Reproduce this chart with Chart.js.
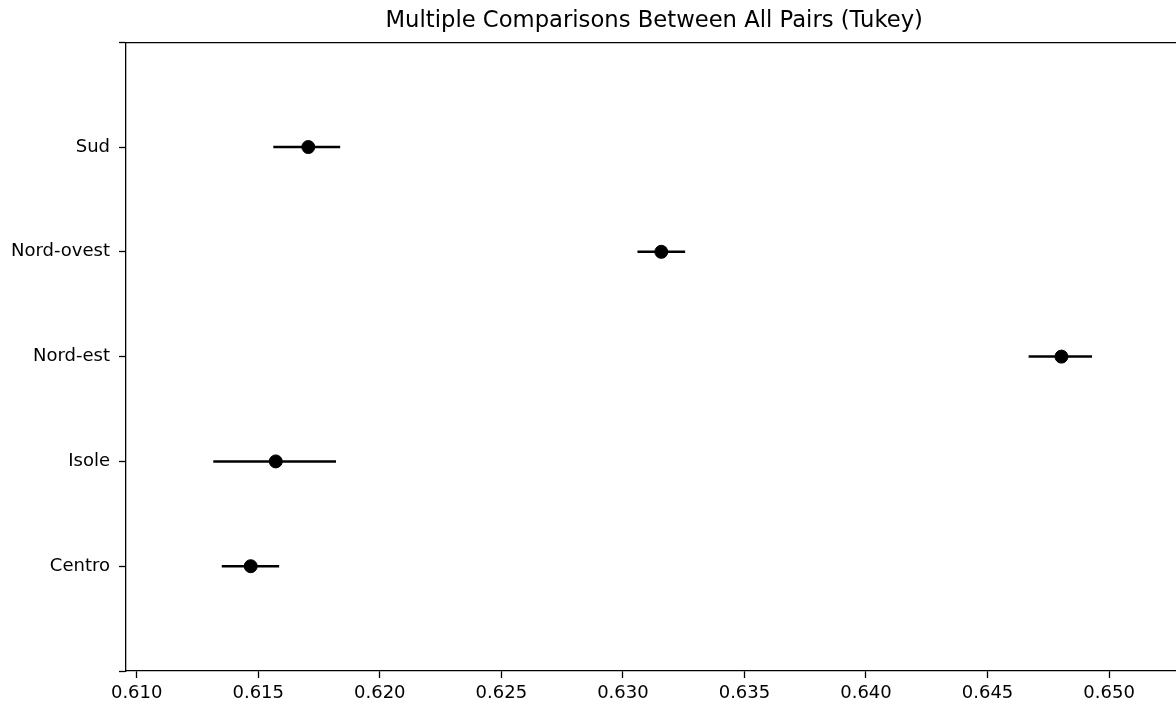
<!DOCTYPE html>
<html>
<head>
<meta charset="utf-8">
<script src="https://cdn.jsdelivr.net/npm/chart.js@4.4.0/dist/chart.umd.min.js"></script>
<style>
  html, body { margin: 0; padding: 0; background: #fff; overflow: hidden; }
  #wrap { width: 1190px; height: 706px; }
</style>
</head>
<body>
<div id="wrap"><canvas id="canvas1"></canvas></div>
<script>
// -- data ------------------------------------------------------------------->
// groups bottom-up, as statsmodels plots them (position 0 = first group)
const groups = ['Centro', 'Isole', 'Nord-est', 'Nord-ovest', 'Sud']
const means = [0.61469, 0.61572, 0.64804, 0.63158, 0.61706]
const lower = [0.61350, 0.61315, 0.64669, 0.63060, 0.61562]
const upper = [0.61586, 0.61820, 0.64930, 0.63256, 0.61837]
const xTicks = [0.610, 0.615, 0.620, 0.625, 0.630, 0.635, 0.640, 0.645, 0.650]
const yTicks = [-1, 0, 1, 2, 3, 4, 5]

// -- datasets --------------------------------------------------------------->
// one small line per group for the confidence interval
let intervalSets = groups.map((g, i) => ({
    type: 'line',
    data: [{ x: lower[i], y: i }, { x: upper[i], y: i }],
    borderColor: '#000',
    borderWidth: 2.5,
    pointRadius: 0,
    fill: false
}))

let meanSet = {
    type: 'scatter',
    data: means.map((m, i) => ({ x: m, y: i })),
    backgroundColor: '#000',
    borderColor: '#000',
    pointRadius: 6.5,
    pointHoverRadius: 6.5
}

// -- chart ------------------------------------------------------------------>
// the canvas is a bit wider than the window: the right spine falls off-screen
Chart.defaults.font.family = "'DejaVu Sans', sans-serif"
Chart.defaults.color = '#000'

const tickFont = { size: 18 }
const xMin = 0.60956
const xMax = 0.65302

new Chart(document.getElementById('canvas1'), {
    data: { datasets: [...intervalSets, meanSet] },
    options: {
        responsive: true,
        maintainAspectRatio: false,
        animation: false,
        events: [],
        layout: { padding: 0 },
        plugins: {
            legend: { display: false },
            tooltip: { enabled: false },
            title: {
                display: true,
                fullSize: false, // centre over the axes, like matplotlib
                text: 'Multiple Comparisons Between All Pairs (Tukey)',
                font: { size: 22.7, weight: 'normal' },
                color: '#000',
                padding: { top: 7, bottom: 8 }
            }
        },
        scales: {
            x: {
                type: 'linear',
                position: 'bottom',
                min: xMin,
                max: xMax,
                afterBuildTicks: s => { s.ticks = xTicks.map(v => ({ value: v })) },
                afterFit: s => { s.height = 35 },
                ticks: {
                    font: tickFont,
                    padding: 5,
                    maxRotation: 0,
                    callback: v => v.toFixed(3)
                },
                grid: { drawOnChartArea: false, tickLength: 7, tickWidth: 1.3, tickColor: '#000' },
                border: { display: true, color: '#000', width: 1.3 }
            },
            x2: {
                type: 'linear',
                position: 'top',
                min: xMin,
                max: xMax,
                afterFit: s => { s.height = 0 },
                ticks: { display: false },
                grid: { display: false },
                border: { display: true, color: '#000', width: 1.3 }
            },
            y: {
                type: 'linear',
                min: -1,
                max: 5,
                afterBuildTicks: s => { s.ticks = yTicks.map(v => ({ value: v })) },
                afterFit: s => { s.width = 126 },
                ticks: {
                    font: tickFont,
                    padding: 9,
                    callback: v => groups[v] || ''
                },
                grid: { drawOnChartArea: false, tickLength: 7, tickWidth: 1.3, tickColor: '#000' },
                border: { display: true, color: '#000', width: 1.3 }
            }
        }
    }
})
</script>
</body>
</html>
